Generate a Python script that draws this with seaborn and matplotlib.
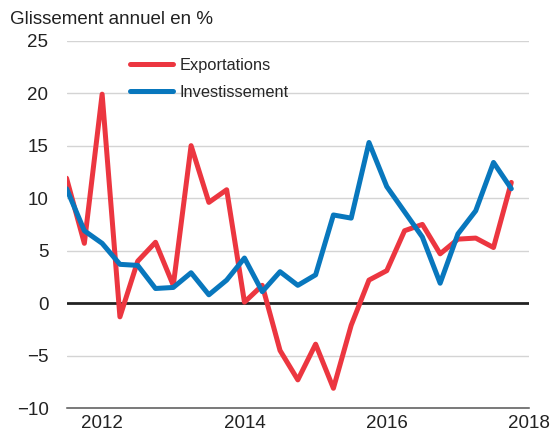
import pandas as pd
import matplotlib
matplotlib.use('Agg')
import matplotlib.pyplot as plt
import seaborn as sns
from matplotlib.ticker import FixedLocator, MultipleLocator

# Quarterly data, 2011 Q3 to 2017 Q4
quarters = [2011.5 + 0.25 * i for i in range(26)]
exportations = [11.9, 5.7, 19.9, -1.3, 4.0, 5.8, 1.7, 15.0, 9.6, 10.8, 0.1, 1.7, -4.5,
                -7.3, -3.9, -8.1, -2.1, 2.2, 3.1, 6.9, 7.5, 4.7, 6.1, 6.2, 5.3, 11.5]
investissement = [10.9, 6.9, 5.7, 3.7, 3.6, 1.4, 1.5, 2.9, 0.8, 2.2, 4.3, 1.1, 3.0,
                  1.7, 2.7, 8.4, 8.1, 15.3, 11.1, 8.7, 6.3, 1.9, 6.6, 8.8, 13.4, 10.9]
year_labels = [2012, 2014, 2016, 2018]

df = pd.DataFrame({
    'date': quarters * 2,
    'value': exportations + investissement,
    'serie': ['Exportations'] * 26 + ['Investissement'] * 26,
})

sns.set_style('white')
plt.rcParams['font.family'] = ['Liberation Sans', 'DejaVu Sans']

fig = plt.figure(figsize=(5.5, 4.32), dpi=100)
ax = fig.add_axes([0.121, 0.055, 0.841, 0.851])

# grid lines and zero line
for y in [-5, 5, 10, 15, 20, 25]:
    ax.axhline(y, color='#d4d4d4', lw=1, zorder=0)
ax.axhline(0, color='#222222', lw=2, zorder=1)

sns.lineplot(data=df, x='date', y='value', hue='serie', ax=ax,
             palette={'Exportations': '#ec3640', 'Investissement': '#0877bd'},
             lw=3.6, zorder=3)

ax.set_xlim(2011.5, 2018.0)
ax.set_ylim(-10, 25)
ax.set_xlabel('')
ax.set_ylabel('')

ax.yaxis.set_major_locator(MultipleLocator(5))
ax.tick_params(axis='y', length=0, pad=13, labelsize=13.5, labelcolor='#222222')

# half-year major ticks, quarterly minor ticks, no labels
ax.xaxis.set_major_locator(FixedLocator([2011.5 + k for k in range(7)] + [2018.0]))
ax.xaxis.set_minor_locator(MultipleLocator(0.25))
ax.tick_params(axis='x', which='major', direction='in', length=7, width=1.1,
               color='#555555', labelbottom=False)
ax.tick_params(axis='x', which='minor', direction='in', length=3.5, width=1.1,
               color='#555555')

sec = ax.secondary_xaxis('bottom')
sec.set_xticks(year_labels)
sec.set_xticklabels([str(y) for y in year_labels])
sec.tick_params(length=0, pad=5, labelsize=13.5, labelcolor='#222222')
for s in sec.spines.values():
    s.set_visible(False)

for side in ['top', 'right', 'left']:
    ax.spines[side].set_visible(False)
ax.spines['bottom'].set_color('#555555')
ax.spines['bottom'].set_linewidth(1.1)

leg = ax.legend(loc='upper left', bbox_to_anchor=(0.236, 0.866),
                bbox_transform=fig.transFigure, frameon=False, fontsize=11.8,
                handlelength=2.65, handletextpad=0.37, labelspacing=0.72,
                borderaxespad=0, borderpad=0)
for line in leg.get_lines():
    line.set_linewidth(3.6)

fig.text(0.018, 0.945, 'Glissement annuel en %', fontsize=13.5, color='#222222',
         va='baseline')

fig.savefig('out.png', dpi=100)
